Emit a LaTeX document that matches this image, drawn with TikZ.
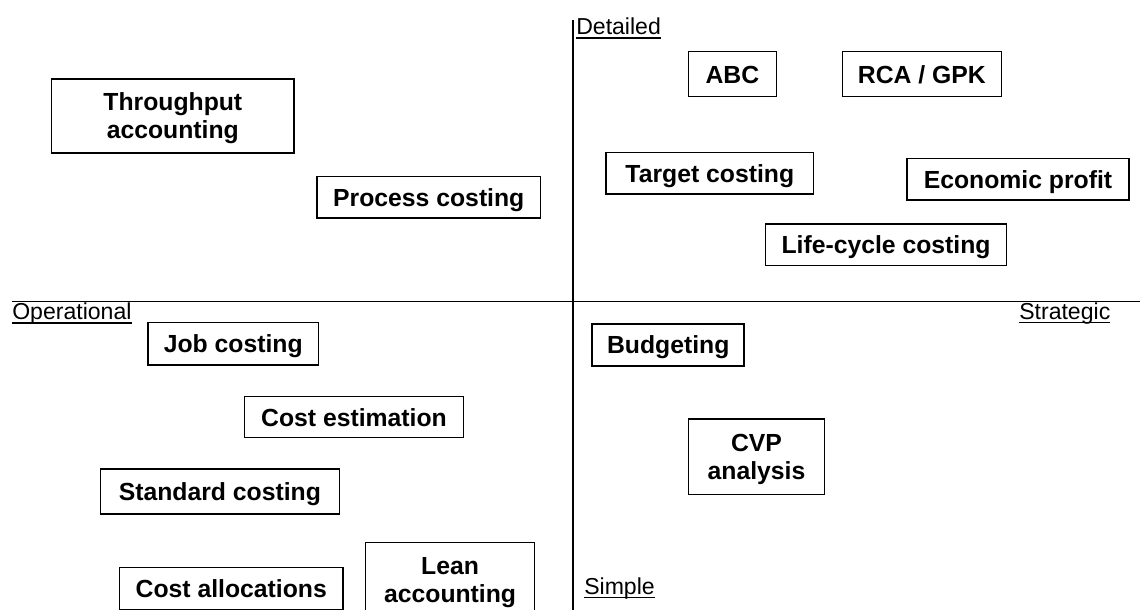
\documentclass[tikz,border=0pt]{standalone}
\usepackage{fontspec}
\setmainfont{Liberation Sans}
\newcommand{\axisul}[1]{\setbox0\hbox{#1}\rlap{\rule[-2.5pt]{\wd0}{0.8pt}}\box0}

\begin{document}
\begin{tikzpicture}[x=0.025cm,y=-0.025cm,
	method/.style={draw,line width=1.05pt,inner sep=0pt,align=center,
		font=\fontsize{17.6}{20.1}\selectfont\bfseries,text height=12.6pt,text depth=0pt},
	twoline/.style={text height=32.7pt},
	boxsize/.style 2 args={minimum width=#1*0.025cm,minimum height=#2*0.025cm},
	axisname/.style={inner sep=0pt,anchor=base west,font=\fontsize{16.4}{19}\selectfont},
	axis/.style={line width=1.3pt}]
	\clip (0,0) rectangle (1140,610);
	% axes
	\coordinate (top) at (573.3,20.5);
	\coordinate (bottom) at (573.3,610);
	\coordinate (left) at (12,301.5);
	\coordinate (right) at (1140,301.5);
	\draw[axis] (left) -- (right);
	\draw[axis] (top) -- (bottom);
	\node[axisname] (detailed) at (576,35) {\axisul{Detailed}};
	\node[axisname] (operational) at (12,320) {\axisul{Operational}};
	\node[axisname] (strategic) at (1019,319.5) {\axisul{Strategic}};
	\node[axisname] (simple) at (584,594.5) {\axisul{Simple}};
	% detailed / operational
	\node[method,twoline,boxsize={242.2}{74}] (throughput) at (172.8,116) {Throughput\\accounting};
	\node[method,boxsize={223.8}{41.3}] (process) at (428.8,197.3) {Process costing};
	% detailed / strategic
	\node[method,boxsize={88}{45}] (abc) at (732.4,74.2) {ABC};
	\node[method,boxsize={159.1}{45}] (rca) at (921.9,74.2) {RCA / GPK};
	\node[method,boxsize={207.2}{41.3}] (target) at (709.8,173.3) {Target costing};
	\node[method,boxsize={222}{41.7}] (economic) at (1018,179.2) {Economic profit};
	\node[method,boxsize={240.8}{41.7}] (lifecycle) at (886.1,244.8) {Life-cycle costing};
	% simple / operational
	\node[method,boxsize={170.3}{42.3}] (job) at (233.3,343.8) {Job costing};
	\node[method,boxsize={218.9}{41}] (estimation) at (354,417.2) {Cost estimation};
	\node[method,boxsize={239.2}{45}] (standard) at (219.9,491.5) {Standard costing};
	\node[method,boxsize={223.2}{41.6}] (allocations) at (231.3,588.5) {Cost allocations};
	\node[method,twoline,boxsize={168.8}{74}] (lean) at (450.1,579.7) {Lean\\accounting};
	% simple / strategic
	\node[method,boxsize={152}{42}] (budgeting) at (668.2,345) {Budgeting};
	\node[method,twoline,boxsize={136.1}{75.3}] (cvp) at (756.5,456.7) {CVP\\analysis};
\end{tikzpicture}
\end{document}
